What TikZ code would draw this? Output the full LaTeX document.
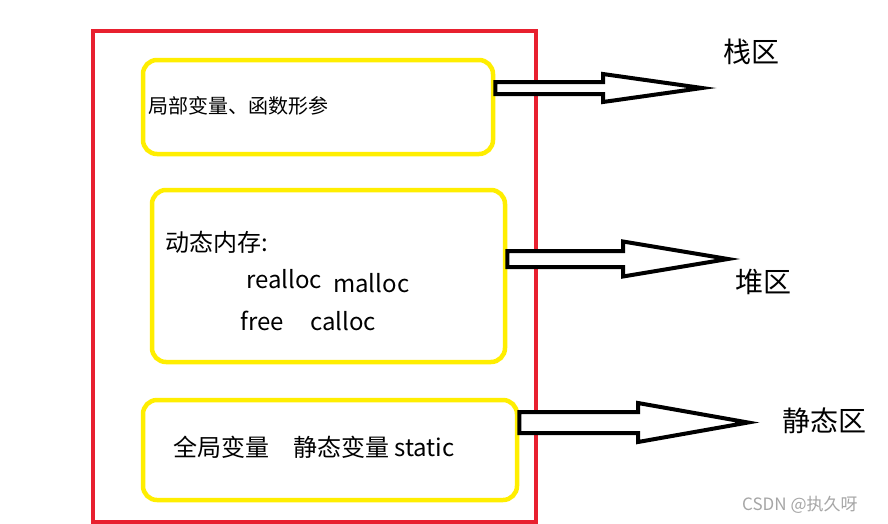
\documentclass[tikz,border=0pt]{standalone}
\usepackage{fontspec}
\setmainfont{Noto Sans CJK SC}
\usetikzlibrary{calc}
\definecolor{paintred}{HTML}{E8202F}
\definecolor{paintyellow}{HTML}{FFEE00}
\tikzset{memarea/.style = {draw=paintred, line width=3.5pt, minimum width=443, minimum height=491, inner sep=0pt},
         ybox/.style = {draw=paintyellow, line width=4.5pt, rounded corners=14pt, inner sep=0pt},
         arrowline/.style = {draw=black, line width=4pt, line join=miter, fill=white},
         txt/.style = {anchor=base west, inner sep=0pt, font=\fontsize{20}{24}\selectfont},
         bigtxt/.style = {anchor=base west, inner sep=0pt, font=\fontsize{24}{28}\selectfont},
         zone/.style = {anchor=base west, inner sep=0pt, font=\fontsize{28}{32}\selectfont}}
\newcommand{\hollowarrow}[5]{%
\draw[arrowline] ($(#1)+(0,-#4)$) -- ($(#2)+(0,-#4)$) -- ($(#2)+(0,-#5)$) -- (#3)
  -- ($(#2)+(0,#5)$) -- ($(#2)+(0,#4)$) -- ($(#1)+(0,#4)$) -- cycle;}

\begin{document}
\begin{tikzpicture}[x=1pt,y=-1pt]
\useasboundingbox (0,0) rectangle (888,523);
\fill[white] (0,0) rectangle (888,523);
\node[memarea] (mem) at (314.5,276.5) {};
\node[ybox, minimum width=350, minimum height=94] (stackbox) at (318,107) {};
\node[ybox, minimum width=353, minimum height=172] (heapbox) at (328.5,276) {};
\node[ybox, minimum width=374, minimum height=100] (staticbox) at (330,450) {};

\node[txt] (locals) at (148,113) {局部变量、函数形参};
\node[bigtxt] (dyn) at (165,251) {动态内存:};
\node[bigtxt] (realloc) at (246,288) {realloc};
\node[bigtxt] (malloc) at (333,292) {malloc};
\node[bigtxt] (free) at (240,330) {free};
\node[bigtxt] (calloc) at (310,330) {calloc};
\node[bigtxt] (globals) at (173,456) {全局变量};
\node[bigtxt] (statics) at (293,456) {静态变量 static};

\node[zone] (stack) at (723,62) {栈区};
\node[zone] (heap) at (735,292) {堆区};
\node[zone] (static) at (782,431) {静态区};

\coordinate (s1) at (stackbox.east |- 0,88);
\coordinate (h1) at (603,88);
\coordinate (t1) at (702,88);
\coordinate (s2) at (heapbox.east |- 0,259);
\coordinate (h2) at (623,259);
\coordinate (t2) at (728,259);
\coordinate (s3) at (staticbox.east |- 0,422.5);
\coordinate (h3) at (638,422.5);
\coordinate (t3) at (748,422.5);
\hollowarrow{s1}{h1}{t1}{6}{14}
\hollowarrow{s2}{h2}{t2}{8}{17.5}
\hollowarrow{s3}{h3}{t3}{10.5}{19.5}

\node[anchor=base west, inner sep=0pt, text=black!35, font=\fontsize{17}{20}\selectfont] (mark) at (742,510) {CSDN @执久呀};
\end{tikzpicture}
\end{document}
